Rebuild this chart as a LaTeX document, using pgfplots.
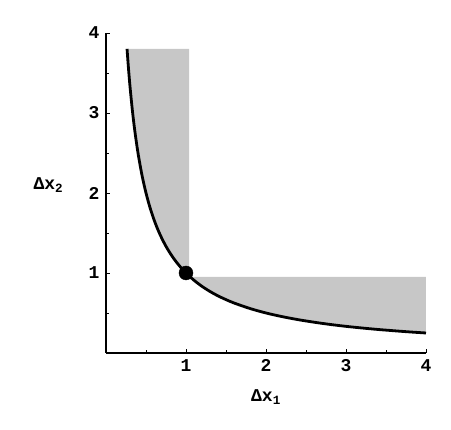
\documentclass[border=0pt]{standalone}
\usepackage{fontspec}
\setmainfont{Liberation Mono}
\usepackage{pgfplots}
\pgfplotsset{compat=1.18}
\begin{document}
\begin{tikzpicture}[x=1pt,y=1pt]
\begin{axis}[
  at={(0,0)}, anchor=origin,
  x=80pt, y=80pt,
  xmin=0, xmax=4, ymin=0, ymax=4,
  axis x line*=bottom, axis y line*=left,
  axis line style={line width=2.4pt},
  clip=false,
  xtick={1,2,3,4}, ytick={1,2,3,4},
  minor xtick={0.5,1.5,2.5,3.5}, minor ytick={0.5,1.5,2.5,3.5},
  tick align=inside,
  major tick length=4pt, minor tick length=3pt,
  tick style={line width=0.8pt, black},
  /pgf/number format/assume math mode=true,
  ticklabel style={font=\fontsize{18}{18}\selectfont\bfseries},
  xticklabel style={yshift=-3pt},
  yticklabel style={xshift=-3pt},
]
\addplot[draw=none, fill=black!22] coordinates {
(0.263,3.802) (0.28,3.571) (0.3,3.333) (0.33,3.030) (0.36,2.778) (0.4,2.5)
(0.45,2.222) (0.5,2.0) (0.55,1.818) (0.6,1.667) (0.65,1.538) (0.7,1.429)
(0.75,1.333) (0.8,1.25) (0.85,1.176) (0.9,1.111) (0.95,1.053) (1.0,1.0)
(1.04,1.0) (1.04,3.802)} -- cycle;
\addplot[draw=none, fill=black!22] coordinates {
(1.053,0.95) (1.1,0.909) (1.2,0.833) (1.3,0.769) (1.4,0.714) (1.5,0.667)
(1.6,0.625) (1.8,0.556) (2.0,0.5) (2.2,0.455) (2.4,0.417) (2.6,0.385)
(2.8,0.357) (3.0,0.333) (3.2,0.3125) (3.4,0.294) (3.6,0.278) (3.8,0.263)
(4.0,0.25) (4.0,0.95)} -- cycle;
\addplot[smooth, line width=2.8pt, black] coordinates {
(0.263,3.802) (0.28,3.571) (0.3,3.333) (0.33,3.030) (0.36,2.778) (0.4,2.5)
(0.45,2.222) (0.5,2.0) (0.55,1.818) (0.6,1.667) (0.65,1.538) (0.7,1.429)
(0.75,1.333) (0.8,1.25) (0.85,1.176) (0.9,1.111) (0.95,1.053) (1.0,1.0)
(1.1,0.909) (1.2,0.833) (1.3,0.769) (1.4,0.714) (1.5,0.667)
(1.6,0.625) (1.8,0.556) (2.0,0.5) (2.2,0.455) (2.4,0.417) (2.6,0.385)
(2.8,0.357) (3.0,0.333) (3.2,0.3125) (3.4,0.294) (3.6,0.278) (3.8,0.263)
(4.0,0.25)};
\addplot[only marks, mark=*, mark size=7pt, black] coordinates {(1,1)};
\node[font=\fontsize{18}{18}\selectfont\bfseries] at (axis cs:2.0,-0.55) {Δx\textsubscript{1}};
\node[font=\fontsize{18}{18}\selectfont\bfseries] at (axis cs:-0.72,2.1) {Δx\textsubscript{2}};
\end{axis}
\useasboundingbox (-106,-77) rectangle (345,353);
\end{tikzpicture}
\end{document}
